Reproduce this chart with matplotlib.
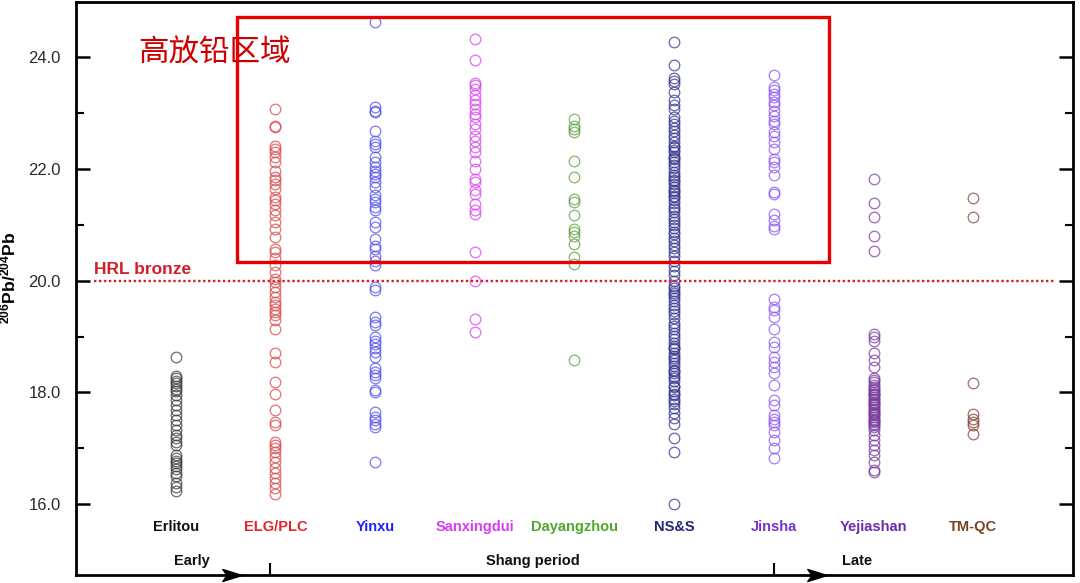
import numpy as np
import matplotlib
matplotlib.use("Agg")
import matplotlib.pyplot as plt
from matplotlib.patches import Rectangle
from matplotlib.path import Path

plt.rcParams['font.family'] = ['Liberation Sans', 'DejaVu Sans']
plt.rcParams['mathtext.fontset'] = 'custom'
plt.rcParams['mathtext.bf'] = 'Liberation Sans:bold'
plt.rcParams['mathtext.rm'] = 'Liberation Sans'

# 206Pb/204Pb values, one list per site
erlitou = [18.63, 18.29, 18.25, 18.21, 18.17, 18.12, 18.06, 18.02, 17.95, 17.87,
           17.78, 17.69, 17.60, 17.50, 17.41, 17.32, 17.24, 17.18, 17.12, 17.05,
           16.88, 16.82, 16.78, 16.74, 16.68, 16.62, 16.55, 16.50, 16.37, 16.30, 16.23]
elg_plc = [23.08, 22.78, 22.75, 22.42, 22.36, 22.30, 22.21, 22.12, 21.97, 21.86,
           21.80, 21.74, 21.65, 21.50, 21.44, 21.38, 21.26, 21.17, 21.05, 20.93,
           20.78, 20.57, 20.51, 20.40, 20.28, 20.16, 20.04, 19.98, 19.89, 19.80,
           19.71, 19.62, 19.56, 19.50, 19.44, 19.38, 19.29, 19.14, 18.70, 18.55,
           18.19, 17.98, 17.68, 17.47, 17.41, 17.11, 17.06, 17.00, 16.94, 16.85,
           16.76, 16.64, 16.55, 16.46, 16.37, 16.28, 16.19]
yinxu = [24.63, 23.11, 23.05, 23.02, 22.69, 22.51, 22.45, 22.39, 22.21, 22.12,
         22.03, 21.97, 21.92, 21.86, 21.77, 21.68, 21.53, 21.47, 21.41, 21.32,
         21.26, 21.05, 20.96, 20.75, 20.63, 20.57, 20.45, 20.36, 20.28, 19.89,
         19.83, 19.35, 19.26, 19.20, 18.99, 18.93, 18.87, 18.79, 18.72, 18.64,
         18.43, 18.37, 18.31, 18.25, 18.04, 18.01, 17.65, 17.56, 17.50, 17.44,
         17.38, 16.76]
sanxingdui = [24.33, 23.95, 23.55, 23.50, 23.44, 23.32, 23.23, 23.17, 23.08, 22.99,
              22.93, 22.81, 22.72, 22.60, 22.51, 22.39, 22.30, 22.15, 22.00, 21.83,
              21.77, 21.62, 21.56, 21.38, 21.26, 21.20, 20.51, 19.99, 19.32, 19.08]
dayangzhou = [22.90, 22.78, 22.72, 22.66, 22.15, 21.86, 21.47, 21.41, 21.17, 20.93,
              20.87, 20.81, 20.66, 20.42, 20.30, 18.58]
nss = [24.27, 23.87, 23.64, 23.58, 23.52, 23.38, 23.23, 23.14, 23.08, 22.93,
       22.86, 22.80, 22.73, 22.68, 22.61, 22.55, 22.49, 22.42, 22.40, 22.35,
       22.30, 22.24, 22.20, 22.19, 22.12, 22.07, 22.02, 21.95, 21.90, 21.85,
       21.80, 21.78, 21.73, 21.68, 21.62, 21.60, 21.57, 21.52, 21.50, 21.45,
       21.40, 21.33, 21.29, 21.23, 21.16, 21.11, 21.05, 21.00, 20.94, 20.87,
       20.83, 20.76, 20.71, 20.64, 20.58, 20.52, 20.44, 20.36, 20.27, 20.18,
       20.10, 20.00, 19.91, 19.87, 19.82, 19.79, 19.75, 19.70, 19.64, 19.57,
       19.52, 19.46, 19.40, 19.33, 19.25, 19.19, 19.13, 19.06, 19.01, 18.95,
       18.89, 18.83, 18.80, 18.77, 18.70, 18.66, 18.62, 18.59, 18.53, 18.47,
       18.41, 18.38, 18.35, 18.29, 18.25, 18.21, 18.12, 18.10, 18.03, 17.98,
       17.95, 17.88, 17.85, 17.80, 17.72, 17.63, 17.55, 17.44, 17.18, 16.94, 16.01]
jinsha = [23.69, 23.47, 23.41, 23.35, 23.29, 23.20, 23.14, 23.05, 22.96, 22.87,
          22.81, 22.66, 22.60, 22.48, 22.36, 22.18, 22.12, 22.03, 21.89, 21.59,
          21.56, 21.20, 21.08, 20.99, 20.93, 19.68, 19.53, 19.47, 19.35, 19.14,
          18.90, 18.81, 18.64, 18.55, 18.46, 18.34, 18.13, 17.86, 17.77, 17.59,
          17.53, 17.47, 17.41, 17.29, 17.14, 17.00, 16.82]
yejiashan = [21.83, 21.39, 21.14, 20.81, 20.53, 19.05, 18.99, 18.93, 18.70, 18.58,
             18.46, 18.25, 18.19, 18.13, 18.07, 18.01, 17.95, 17.89, 17.83, 17.77,
             17.71, 17.65, 17.59, 17.53, 17.47, 17.41, 17.32, 17.23, 17.14, 17.06,
             16.97, 16.88, 16.76, 16.61, 16.58,
             18.22, 18.10, 18.04, 17.98, 17.92, 17.86, 17.80, 17.74, 17.68, 17.62,
             17.56, 17.50, 17.44, 17.38, 17.97, 17.81, 17.64, 17.48]
tm_qc = [21.48, 21.15, 18.17, 17.62, 17.53, 17.47, 17.41, 17.26]

sites = ['Erlitou', 'ELG/PLC', 'Yinxu', 'Sanxingdui', 'Dayangzhou', 'NS&S',
         'Jinsha', 'Yejiashan', 'TM-QC']
series = [erlitou, elg_plc, yinxu, sanxingdui, dayangzhou, nss, jinsha, yejiashan, tm_qc]
marker_colors = ['#3a3a3a', '#d94848', '#5050f0', '#d840f0', '#5c9e3e', '#34348f',
                 '#8a55f5', '#7a3a9e', '#854035']
label_colors = ['#111111', '#e3242b', '#1f1fff', '#d93cf5', '#4ea82a', '#25257a',
                '#7434c8', '#6a2cae', '#7a4620']

periods = ['Early', 'Shang period', 'Late']
period_x = [1.16, 4.58, 7.84]

fig = plt.figure(figsize=(10.8, 5.83), dpi=100)
ax = fig.add_axes([0.0704, 0.0137, 0.923, 0.9835])

for i, (vals, mc) in enumerate(zip(series, marker_colors)):
    ax.plot(np.full(len(vals), i + 1.0), vals, 'o', ms=7.6, mfc='none', mec=mc,
            mew=0.95, alpha=0.72, ls='none')

# category names under the columns
for i, (name, lc) in enumerate(zip(sites, label_colors)):
    ax.text(i + 1, 15.59, name, ha='center', va='center', fontsize=10.5,
            fontweight='bold', color=lc)

for name, px in zip(periods, period_x):
    ax.text(px, 14.98, name, ha='center', va='center', fontsize=10.5,
            fontweight='bold', color='#111111')

# HRL bronze line
ax.plot([0.18, 9.82], [20.0, 20.0], color='#d0202a', lw=1.7, ls=(0, (1, 1.1)))
ax.text(0.18, 20.07, 'HRL bronze', ha='left', va='bottom', fontsize=12.5,
        fontweight='bold', color='#d0202a')

# high-radiogenic lead box
ax.add_patch(Rectangle((1.61, 20.33), 7.55 - 1.61, 24.72 - 20.33, fill=False,
                       ec='#e60000', lw=2.4, zorder=5))
ax.text(0.62, 24.07, '高放铅区域', ha='left', va='center', fontsize=22,
        color='#cc0000', family=['Noto Sans CJK SC', 'DejaVu Sans'])

# arrows on the bottom axis
arrow = Path([(-1, 0.62), (1, 0), (-1, -0.62), (-0.55, 0), (-1, 0.62)],
             [Path.MOVETO, Path.LINETO, Path.LINETO, Path.LINETO, Path.CLOSEPOLY])
for ax_x in [1.56, 7.43]:
    ax.plot([ax_x], [14.73], marker=arrow, ms=14, color='black', clip_on=False,
            zorder=10)

ax.set_xlim(0, 10)
ax.set_ylim(14.73, 25.0)
ax.set_yticks([16, 18, 20, 22, 24])
ax.set_yticks([17, 19, 21, 23], minor=True)
ax.set_yticklabels(['16.0', '18.0', '20.0', '22.0', '24.0'])
ax.set_xticks([1.95, 7.0])
ax.set_xticklabels([])

ax.tick_params(axis='y', which='major', direction='in', length=10, width=1.8,
               right=True, labelsize=12, labelcolor='#2a2a2a', pad=11)
ax.tick_params(axis='y', which='minor', direction='in', length=5.5, width=1.5,
               right=True)
ax.tick_params(axis='x', direction='in', length=9, width=1.5)

for sp in ax.spines.values():
    sp.set_linewidth(2.0)

ax.set_ylabel(r'$\mathbf{^{206}Pb/^{204}Pb}$', fontsize=12.5)
ax.yaxis.set_label_coords(-0.058, 0.518)

fig.savefig('out.png', dpi=100)
